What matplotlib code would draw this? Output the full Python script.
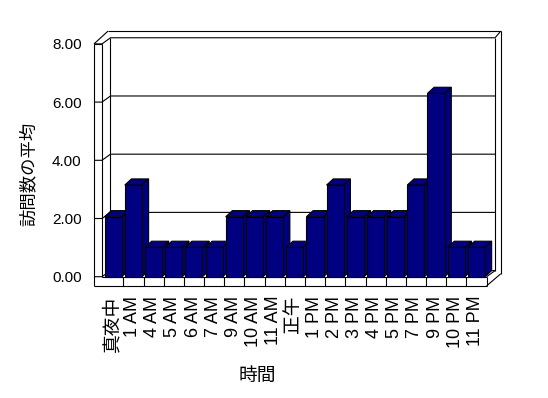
import matplotlib
matplotlib.use('Agg')
import matplotlib.pyplot as plt
from matplotlib.patches import Polygon

# ---- data ----
categories = ['真夜中', '1 AM', '4 AM', '5 AM', '6 AM', '7 AM', '9 AM', '10 AM', '11 AM',
              '正午', '1 PM', '2 PM', '3 PM', '4 PM', '5 PM', '7 PM', '9 PM', '10 PM', '11 PM']
values = [2.06, 3.15, 1.01, 1.01, 1.01, 1.01, 2.06, 2.06, 2.06,
          1.01, 2.06, 3.15, 2.06, 2.06, 2.06, 3.15, 6.30, 1.01, 1.01]
y_ticks = [0, 2, 4, 6, 8]
y_tick_labels = ['0.00', '2.00', '4.00', '6.00', '8.00']
x_title = '時間'
y_title = '訪問数の平均'

plt.rcParams['font.family'] = ['Liberation Sans', 'Noto Sans CJK JP']

W, H = 548, 398
fig = plt.figure(figsize=(W / 100, H / 100), dpi=100)
ax = fig.add_axes([85 / W, (H - 293) / H, 420 / W, 268 / H])
ax.set_xlim(-0.902, 19.911)
ax.set_ylim(-0.560, 8.649)
for s in ax.spines.values():
    s.set_visible(False)

# ---- 3D frame geometry (data units) ----
n = len(categories)
XL_OUT, XL_IN, X_R = -0.456, -0.06, float(n)
DX, DY = 0.42, 0.21      # depth of plot area
TX, TY = 0.28, 0.23      # wall thickness
FLOOR = -0.315
YMAX = y_ticks[-1]
LW = 0.8


def line(xs, ys, z=1):
    ax.plot(xs, ys, color='black', lw=LW, solid_capstyle='butt', zorder=z)


# left wall
line([XL_OUT, XL_OUT], [FLOOR, YMAX])
line([XL_IN, XL_IN], [0, YMAX])
line([XL_OUT, XL_IN], [YMAX, YMAX])
line([XL_OUT, 0.24], [YMAX, YMAX + DY + TY])
# back wall
line([0.24, X_R + DX + TX], [YMAX + DY + TY, YMAX + DY + TY])
line([XL_IN + DX, XL_IN + DX], [DY, YMAX + DY])
line([X_R + DX, X_R + DX], [DY, YMAX + DY])
line([X_R + DX + TX, X_R + DX + TX], [0.1, YMAX + DY + TY])
line([X_R + DX, X_R + DX + TX], [YMAX + DY, YMAX + DY + TY])
# gridlines
for k in y_ticks:
    line([XL_OUT, XL_IN, XL_IN + DX, X_R + DX], [k, k, k + DY, k + DY])
# floor
line([XL_IN, X_R], [0, 0])
line([XL_OUT, X_R], [FLOOR, FLOOR])
line([X_R, X_R], [FLOOR, 0])
line([X_R, X_R + DX], [0, DY])
line([X_R, X_R + DX + TX], [FLOOR, 0.1])
for i in range(1, n):
    line([i, i], [FLOOR, 0])

# ---- bars ----
navy = '#000080'
BX0, BX1 = 0.07, 0.92
BDX, BDY = 0.33, 0.21
for i, v in enumerate(values):
    x0, x1 = i + BX0, i + BX1
    side = [(x1, 0), (x1, v), (x1 + BDX, v + BDY), (x1 + BDX, BDY)]
    top = [(x0, v), (x1, v), (x1 + BDX, v + BDY), (x0 + BDX, v + BDY)]
    front = [(x0, 0), (x1, 0), (x1, v), (x0, v)]
    for pts in (side, top, front):
        ax.add_patch(Polygon(pts, closed=True, facecolor=navy, edgecolor='black',
                             lw=LW, zorder=3 + i * 0.01))

# ---- ticks & labels ----
ax.set_yticks(y_ticks, y_tick_labels)
ax.tick_params(axis='y', length=0, pad=2.4, labelsize=11)
ax.set_xticks([i + 0.45 for i in range(n)], categories, rotation=90)
ax.tick_params(axis='x', length=0, pad=2.0, labelsize=13)
for lbl in ax.get_xticklabels():
    if any(ord(c) > 127 for c in lbl.get_text()):
        lbl.set_fontsize(13.5)

ax.set_xlabel(x_title, fontsize=13.5, va='center', ha='center')
ax.xaxis.set_label_coords((257.5 - 85) / 420, (293 - 376) / 268)
ax.set_ylabel(y_title, fontsize=12.5, va='center', ha='center')
ax.yaxis.set_label_coords((28 - 85) / 420, (293 - 174) / 268)

fig.savefig('out.png', dpi=100)
